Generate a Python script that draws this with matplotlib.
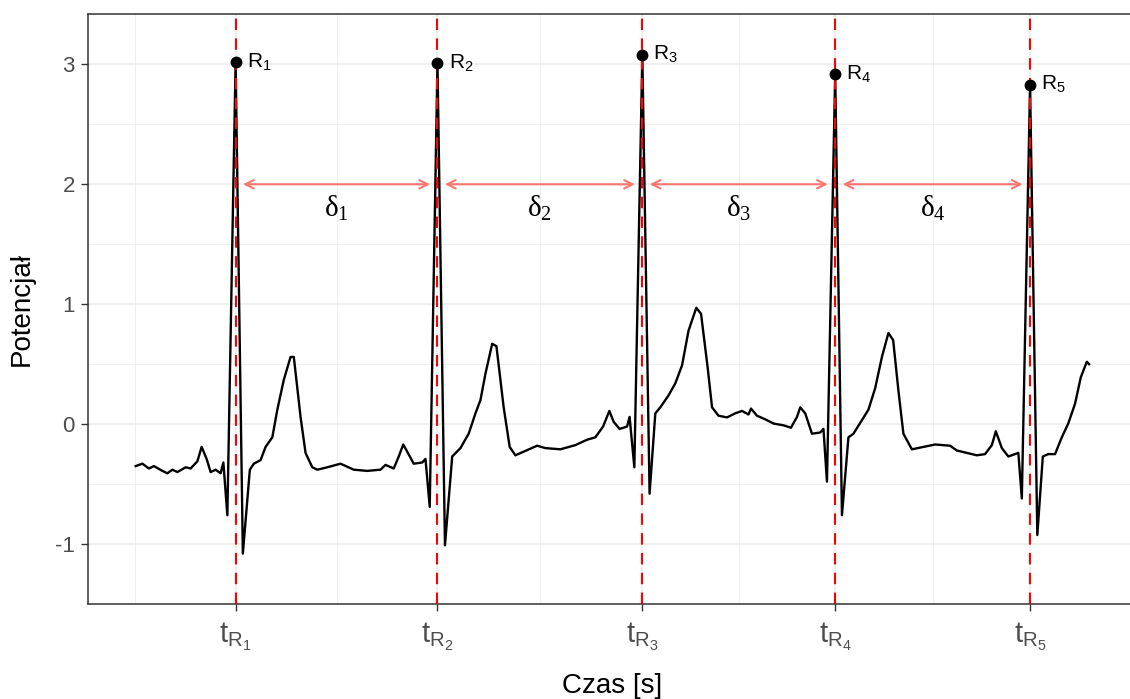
import numpy as np
import matplotlib
matplotlib.use('Agg')
import matplotlib.pyplot as plt

plt.rcParams['font.family'] = ['Liberation Sans', 'DejaVu Sans']
plt.rcParams['mathtext.default'] = 'regular'

# ECG signal (time in s, potential)
czas = [0.000, 0.027, 0.053, 0.073, 0.107, 0.127, 0.147, 0.167, 0.200, 0.220,
        0.247, 0.264, 0.284, 0.300, 0.320, 0.340, 0.351, 0.367, 0.400, 0.429,
        0.457, 0.473, 0.500, 0.520, 0.547, 0.567, 0.593, 0.620, 0.633, 0.660,
        0.680, 0.707, 0.727, 0.767, 0.820, 0.873, 0.927, 0.980, 1.000, 1.033,
        1.053, 1.071, 1.087, 1.113, 1.147, 1.160, 1.177, 1.208, 1.238, 1.267,
        1.300, 1.333, 1.360, 1.380, 1.400, 1.427, 1.444, 1.473, 1.497, 1.520,
        1.553, 1.607, 1.640, 1.700, 1.760, 1.807, 1.840, 1.871, 1.896, 1.913,
        1.937, 1.967, 1.977, 1.996, 2.028, 2.057, 2.080, 2.100, 2.133, 2.160,
        2.187, 2.213, 2.244, 2.263, 2.289, 2.307, 2.333, 2.367, 2.400, 2.427,
        2.453, 2.463, 2.487, 2.520, 2.553, 2.593, 2.623, 2.647, 2.660, 2.680,
        2.707, 2.740, 2.753, 2.767, 2.800, 2.827, 2.853, 2.873, 2.900, 2.933,
        2.960, 2.987, 3.013, 3.032, 3.053, 3.073, 3.107, 3.153, 3.200, 3.260,
        3.287, 3.327, 3.367, 3.400, 3.427, 3.443, 3.467, 3.493, 3.533, 3.547,
        3.580, 3.609, 3.631, 3.653, 3.680, 3.707, 3.733, 3.760, 3.783, 3.807,
        3.816]
potencjal = [-0.35, -0.33, -0.37, -0.35, -0.39, -0.41, -0.38, -0.40, -0.36, -0.37,
             -0.31, -0.19, -0.29, -0.40, -0.38, -0.41, -0.32, -0.76, 3.02, -1.08,
             -0.38, -0.33, -0.30, -0.19, -0.11, 0.12, 0.37, 0.56, 0.56, 0.06,
             -0.24, -0.36, -0.38, -0.36, -0.33, -0.38, -0.39, -0.38, -0.34, -0.37,
             -0.27, -0.17, -0.23, -0.33, -0.32, -0.29, -0.69, 3.01, -1.01, -0.27,
             -0.20, -0.08, 0.09, 0.20, 0.42, 0.67, 0.65, 0.14, -0.19, -0.26,
             -0.23, -0.18, -0.20, -0.21, -0.175, -0.13, -0.11, -0.02, 0.11, 0.02,
             -0.04, -0.02, 0.06, -0.36, 3.08, -0.58, 0.09, 0.14, 0.24, 0.34,
             0.49, 0.78, 0.97, 0.92, 0.48, 0.14, 0.07, 0.056, 0.09, 0.11,
             0.08, 0.13, 0.07, 0.04, 0.005, -0.01, -0.03, 0.06, 0.14, 0.09,
             -0.08, -0.07, -0.04, -0.48, 2.92, -0.76, -0.11, -0.08, 0.01, 0.12,
             0.30, 0.56, 0.76, 0.70, 0.28, -0.08, -0.21, -0.19, -0.17, -0.18,
             -0.22, -0.24, -0.26, -0.25, -0.175, -0.06, -0.20, -0.27, -0.24, -0.62,
             2.83, -0.925, -0.27, -0.25, -0.25, -0.11, 0.006, 0.17, 0.39, 0.52,
             0.50]

# R peaks
t_r = [0.400, 1.208, 2.028, 2.800, 3.580]
v_r = [3.02, 3.01, 3.08, 2.92, 2.83]
r_labels = ['R$_1$', 'R$_2$', 'R$_3$', 'R$_4$', 'R$_5$']
tick_labels = ['t$_{R_1}$', 't$_{R_2}$', 't$_{R_3}$', 't$_{R_4}$', 't$_{R_5}$']
delta_labels = ['δ$_1$', 'δ$_2$', 'δ$_3$', 'δ$_4$']

fig = plt.figure(figsize=(11.3, 6.99), dpi=100)
ax = fig.add_axes([88/1130, 95/699, 1048.7/1130, 590/699])

# grid like theme_bw
ax.set_axisbelow(True)
ax.set_yticks([-1, 0, 1, 2, 3])
ax.set_yticklabels(['-1', '0', '1', '2', '3'])
ax.set_yticks([-1.5, -0.5, 0.5, 1.5, 2.5, 3.5], minor=True)
bd = t_r[1] - t_r[0]
b = [t_r[0] - bd] + t_r + [t_r[-1] + bd]
ax.set_xticks(t_r)
ax.set_xticklabels(tick_labels)
ax.set_xticks([(b[i] + b[i+1])/2 for i in range(len(b)-1)], minor=True)

rng = max(czas) - min(czas)
ax.set_xlim(min(czas) - 0.05*rng, max(czas) + 0.05*rng)
ax.set_ylim(-1.5, 3.42)

ax.grid(True, which='major', color='#EBEBEB', lw=1.1)
ax.grid(True, which='minor', color='#EBEBEB', lw=0.55)
ax.tick_params(which='minor', length=0)
ax.tick_params(which='major', length=5, width=1, color='#333333')
ax.tick_params(axis='y', labelsize=16, labelcolor='#4D4D4D', pad=4.5)
ax.tick_params(axis='x', labelsize=21, labelcolor='#4D4D4D', pad=7)
for s in ax.spines.values():
    s.set_color('#333333')
    s.set_linewidth(1.1)

ax.plot(czas, potencjal, color='black', lw=1.7, zorder=3)
for t in t_r:
    ax.axvline(t, color='red', lw=1.5, ls=(0, (5.5, 4)), zorder=4)
ax.plot(t_r, v_r, 'o', color='black', ms=7.5, zorder=5)
for t, v, lab in zip(t_r, v_r, r_labels):
    ax.annotate(lab, (t, v), xytext=(8, 0), textcoords='offset points',
                ha='left', va='center', fontsize=15)

for i in range(len(t_r) - 1):
    ax.annotate('', xy=(t_r[i+1] - 0.03, 2), xytext=(t_r[i] + 0.03, 2),
                arrowprops=dict(arrowstyle='<->,head_length=0.5,head_width=0.25',
                                color='#F8766D', lw=1.5, shrinkA=0, shrinkB=0,
                                mutation_scale=12), zorder=4)
    ax.text((t_r[i] + t_r[i+1])/2, 1.8, delta_labels[i], ha='center', va='center',
            fontsize=21, family=['Liberation Serif', 'DejaVu Serif'])

ax.set_xlabel('Czas [s]', fontsize=20)
ax.set_ylabel('Potencjał', fontsize=20)
ax.xaxis.label.set_va('center')
ax.yaxis.label.set_va('center')
ax.xaxis.set_label_coords(0.5, -0.139)
ax.yaxis.set_label_coords(-0.063, 0.5)

fig.savefig('out.png', dpi=100)
